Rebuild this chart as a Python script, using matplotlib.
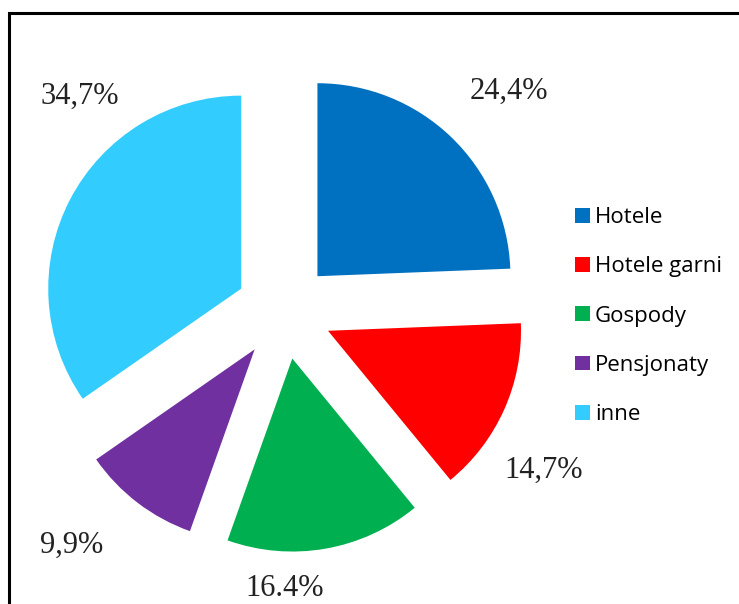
"""Exploded pie chart of accommodation types with legend on the right."""

import math

import matplotlib
matplotlib.use("Agg")
import matplotlib.pyplot as plt
from matplotlib.patches import Rectangle

categories = ["Hotele", "Hotele garni", "Gospody", "Pensjonaty", "inne"]
shares = [24.4, 14.7, 16.4, 9.9, 34.7]
share_labels = ["24,4%", "14,7%", "16.4%", "9,9%", "34,7%"]
colors = ["#0070C0", "#FF0000", "#00B050", "#7030A0", "#33CCFF"]

# label placement (distance from exploded centre in radii, angle in degrees)
label_dist = [1.38, 1.33, 1.19, 1.39, 1.30]
label_angle = [44, -33, -92, -133, 130]

W, H, DPI = 739, 604, 100
CX, CY, R = 284, 311, 193  # pie centre / radius in pixels


def main():
    fig = plt.figure(figsize=(W / DPI, H / DPI), dpi=DPI)
    ax = fig.add_axes([0, 0, 1, 1])

    wedges, _ = ax.pie(
        shares,
        colors=colors,
        startangle=90,
        counterclock=False,
        explode=[0.25] * len(shares),
        radius=1.0,
        wedgeprops={"linewidth": 0},
    )
    ax.set_aspect("auto")
    ax.set_xlim(-CX / R, (W - CX) / R)
    ax.set_ylim(-(H - CY) / R, CY / R)
    ax.axis("off")

    for w, lbl, d, a in zip(wedges, share_labels, label_dist, label_angle):
        cx, cy = w.center
        ax.text(cx + d * math.cos(math.radians(a)), cy + d * math.sin(math.radians(a)),
                lbl, ha="center", va="center", fontsize=22,
                family="Liberation Serif", color="#222222")

    ax.legend(
        wedges, categories,
        loc="upper left", bbox_to_anchor=(564 / W, 1 - 196 / H),
        bbox_transform=fig.transFigure,
        frameon=False, prop={"family": "Open Sans", "size": 16},
        handlelength=0.65, handleheight=0.65, handletextpad=0.25,
        labelspacing=1.27, borderpad=0,
    )

    fig.patches.append(Rectangle((9 / W, -0.1), 1.2, 1.1 - 13 / H,
                                 transform=fig.transFigure, fill=False,
                                 edgecolor="black", linewidth=2.2))

    fig.savefig("out.png", dpi=DPI)
    plt.close(fig)


if __name__ == "__main__":
    main()
